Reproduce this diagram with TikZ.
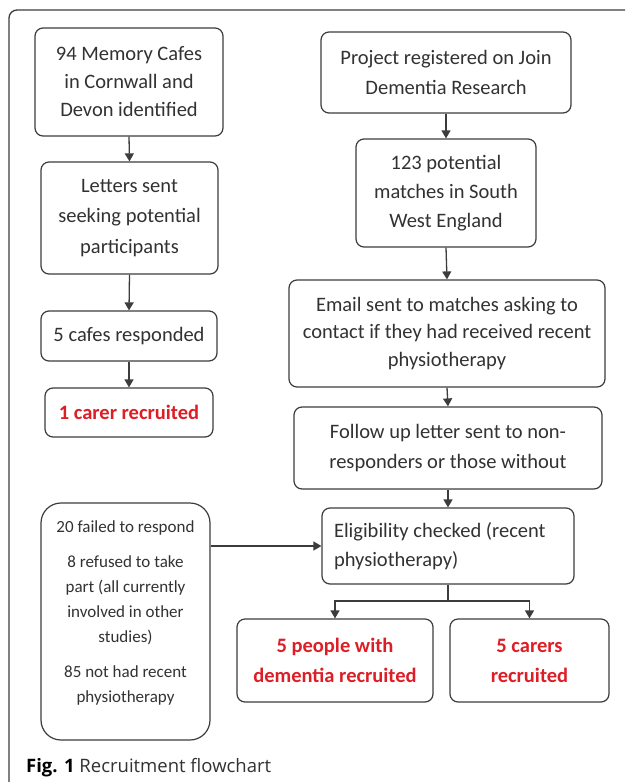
\documentclass[tikz,border=0pt]{standalone}
\usepackage{fontspec}
\setmainfont{Carlito}
\newfontfamily\capfont{Open Sans}
\usetikzlibrary{arrows.meta}
\definecolor{linegray}{RGB}{60,60,60}
\definecolor{txtgray}{RGB}{50,50,50}
\definecolor{recred}{RGB}{222,30,38}
\begin{document}
\begin{tikzpicture}[x=1pt,y=-1pt,
  box/.style={draw=linegray, line width=1.2pt, rounded corners=8pt, align=center, inner sep=0pt, text=txtgray, font=\fontsize{20.5}{29}\selectfont},
  redbox/.style={box, text=recred, font=\fontsize{20.5}{30}\selectfont\bfseries},
  arr/.style={draw=linegray, line width=1.3pt, -{Triangle[length=8pt,width=9pt]}}]
\fill[white] (0,0) rectangle (625,782);
\useasboundingbox (0,0) rectangle (625,782);
\begin{scope}
\clip (0,0) rectangle (625,782);
\draw[linegray, line width=1.3pt, rounded corners=8pt] (9,10) rectangle (660,820);
\end{scope}
% left column
\node[box, minimum width=188pt, minimum height=108pt, font=\fontsize{20.5}{28}\selectfont] (A) at (129,82) {94 Memory Cafes\\in Cornwall and\\Devon identified};
\node[box, minimum width=177pt, minimum height=112pt, font=\fontsize{20.5}{30.5}\selectfont] (B) at (129.5,218) {Letters sent\\seeking potential\\participants};
\node[box, minimum width=176pt, minimum height=50pt] (C) at (129,336) {5 cafes responded};
\node[redbox, minimum width=168pt, minimum height=49pt] (D) at (129,412.5) {1 carer recruited};
% right column
\node[box, minimum width=250pt, minimum height=81pt, font=\fontsize{20.5}{30}\selectfont] (E) at (446,72.5) {Project registered on Join\\Dementia Research};
\node[box, minimum width=180pt, minimum height=108pt] (F) at (446,193) {123 potential\\matches in South\\West England};
\node[box, minimum width=316pt, minimum height=107pt, font=\fontsize{20.5}{27.5}\selectfont] (G) at (447,333.5) {Email sent to matches asking to\\contact if they had received recent\\physiotherapy};
\node[box, minimum width=308pt, minimum height=82pt, font=\fontsize{20.5}{30}\selectfont] (H) at (448,448) {Follow up letter sent to non-\\responders or those without};
\node[box, minimum width=252pt, minimum height=76pt, align=flush left, text width=228pt, inner xsep=12pt] (I) at (448,546) {Eligibility checked (recent\\physiotherapy)};
\node[box, minimum width=169pt, minimum height=237pt, rounded corners=20pt, text depth=20pt, font=\fontsize{17}{25}\selectfont] (J) at (125.5,621.5) {20 failed to respond\\[10pt]8 refused to take\\part (all currently\\involved in other\\studies)\\[10pt]85 not had recent\\physiotherapy};
\node[redbox, minimum width=196pt, minimum height=83pt] (K) at (335,660.5) {5 people with\\dementia recruited};
\node[redbox, minimum width=159pt, minimum height=83pt] (L) at (529.5,660.5) {5 carers\\recruited};
\coordinate (split) at (448,601);
% connectors
\draw[arr] (A.south) -- (B.north);
\draw[arr] (B.south) -- (C.north);
\draw[arr] (C.south) -- (D.north);
\draw[arr] (E.south) -- (F.north);
\draw[arr] (F.south) -- (G.north);
\draw[arr] (G.south) -- (H.north);
\draw[arr] (H.south) -- (I.north);
\draw[arr] (I.west -| J.east) -- (I.west);
\draw[draw=linegray, line width=1.3pt] (I.south) -- (split);
\draw[arr] (split) -| (K.north);
\draw[arr] (split) -| (L.north);
% caption
\node[anchor=base west, inner sep=0pt, font=\capfont\fontsize{18.5}{22}\selectfont, text=txtgray] (cap) at (26,772.5) {\textbf{\color{black}Fig. 1} Recruitment flowchart};
\end{tikzpicture}
\end{document}
